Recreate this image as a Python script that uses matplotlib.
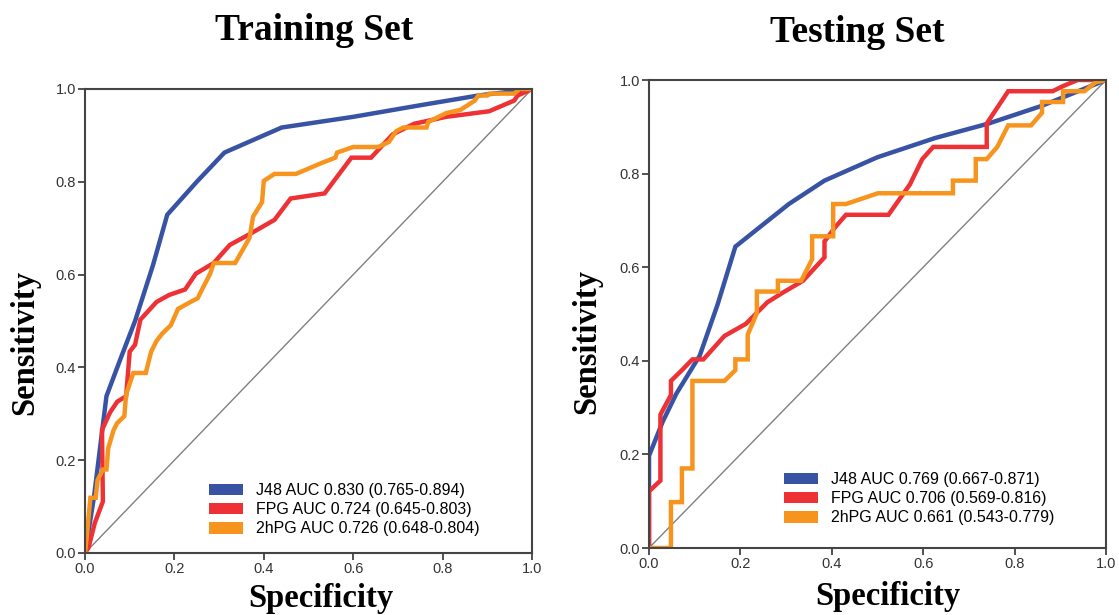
import matplotlib
matplotlib.use("Agg")
import matplotlib.pyplot as plt
from matplotlib.patches import Patch

# colours of the three models
C_J48 = "#3953A4"
C_FPG = "#EE3134"
C_2HPG = "#F7941D"

# ---- training set curves (x = 1 - specificity, y = sensitivity) ----
train_j48_x = [0.0, 0.02, 0.048, 0.08, 0.112, 0.152, 0.184, 0.25, 0.312, 0.44, 0.6, 0.75, 0.88, 1.0]
train_j48_y = [0.0, 0.12, 0.338, 0.42, 0.50, 0.62, 0.729, 0.80, 0.863, 0.917, 0.94, 0.965, 0.986, 1.0]

train_fpg_x = [0.0, 0.008, 0.022, 0.04, 0.038, 0.056, 0.072, 0.092, 0.1, 0.112, 0.124, 0.16,
               0.188, 0.224, 0.248, 0.288, 0.324, 0.368, 0.424, 0.46, 0.536, 0.596, 0.64,
               0.688, 0.736, 0.808, 0.904, 0.96, 0.968, 1.0]
train_fpg_y = [0.0, 0.012, 0.065, 0.111, 0.265, 0.303, 0.326, 0.338, 0.434, 0.449, 0.503, 0.541,
               0.556, 0.568, 0.602, 0.625, 0.664, 0.687, 0.718, 0.764, 0.775, 0.852, 0.852,
               0.902, 0.925, 0.940, 0.952, 0.975, 0.986, 1.0]

train_2hpg_x = [0.0, 0.004, 0.012, 0.024, 0.028, 0.04, 0.048, 0.052, 0.064, 0.072, 0.088, 0.092,
                0.108, 0.136, 0.148, 0.16, 0.172, 0.192, 0.208, 0.236, 0.252, 0.264, 0.28,
                0.288, 0.336, 0.368, 0.376, 0.396, 0.4, 0.424, 0.472, 0.528, 0.56, 0.564,
                0.6, 0.656, 0.68, 0.696, 0.712, 0.764, 0.768, 0.808, 0.84, 0.872, 0.88,
                0.9, 0.904, 0.96, 0.972, 1.0]
train_2hpg_y = [0.0, 0.035, 0.119, 0.119, 0.157, 0.18, 0.18, 0.226, 0.265, 0.28, 0.295, 0.342,
                0.388, 0.388, 0.434, 0.457, 0.472, 0.491, 0.526, 0.541, 0.549, 0.572, 0.602,
                0.625, 0.625, 0.679, 0.725, 0.756, 0.802, 0.817, 0.817, 0.840, 0.852, 0.863,
                0.875, 0.875, 0.886, 0.909, 0.917, 0.917, 0.929, 0.948, 0.955, 0.975, 0.986,
                0.986, 0.990, 0.990, 1.0, 1.0]

# ---- testing set curves ----
test_j48_x = [0.0, 0.0, 0.03, 0.06, 0.111, 0.15, 0.189, 0.306, 0.384, 0.5, 0.626, 0.743, 0.86, 1.0]
test_j48_y = [0.0, 0.197, 0.27, 0.33, 0.411, 0.52, 0.644, 0.735, 0.785, 0.835, 0.876, 0.907, 0.945, 1.0]

test_fpg_x = [0.0, 0.0, 0.025, 0.025, 0.048, 0.048, 0.072, 0.095, 0.119, 0.165, 0.212, 0.259,
              0.29, 0.337, 0.384, 0.384, 0.407, 0.431, 0.524, 0.571, 0.598, 0.622, 0.739,
              0.739, 0.786, 0.883, 0.906, 0.938, 1.0]
test_fpg_y = [0.0, 0.121, 0.144, 0.285, 0.327, 0.357, 0.380, 0.403, 0.403, 0.453, 0.479, 0.525,
              0.544, 0.571, 0.621, 0.655, 0.685, 0.712, 0.712, 0.777, 0.831, 0.857, 0.857,
              0.907, 0.976, 0.976, 0.987, 1.0, 1.0]

test_2hpg_x = [0.0, 0.048, 0.048, 0.072, 0.072, 0.095, 0.095, 0.165, 0.189, 0.189, 0.216, 0.216,
               0.236, 0.236, 0.282, 0.282, 0.333, 0.357, 0.357, 0.403, 0.403, 0.431, 0.501,
               0.665, 0.665, 0.715, 0.715, 0.739, 0.762, 0.786, 0.836, 0.86, 0.86, 0.906,
               0.906, 0.953, 0.977, 1.0]
test_2hpg_y = [0.0, 0.0, 0.098, 0.098, 0.170, 0.170, 0.357, 0.357, 0.380, 0.403, 0.403, 0.456,
               0.502, 0.548, 0.548, 0.571, 0.571, 0.617, 0.666, 0.666, 0.735, 0.735, 0.758,
               0.758, 0.785, 0.785, 0.831, 0.831, 0.857, 0.903, 0.903, 0.930, 0.953, 0.953,
               0.976, 0.976, 0.995, 1.0]

train_labels = ["J48 AUC 0.830 (0.765-0.894)",
                "FPG AUC 0.724 (0.645-0.803)",
                "2hPG AUC 0.726 (0.648-0.804)"]
test_labels = ["J48 AUC 0.769 (0.667-0.871)",
               "FPG AUC 0.706 (0.569-0.816)",
               "2hPG AUC 0.661 (0.543-0.779)"]
ticks = [0.0, 0.2, 0.4, 0.6, 0.8, 1.0]

W, H = 1119, 615
fig = plt.figure(figsize=(W / 100, H / 100), dpi=100)

def px_rect(x0, y0, x1, y1):
    return [x0 / W, 1 - y1 / H, (x1 - x0) / W, (y1 - y0) / H]

def draw_panel(ax, curves, labels, leg_xy):
    ax.plot([0, 1], [0, 1], color="#808080", lw=1.0, zorder=1)
    for (x, y), c in zip(curves, [C_J48, C_FPG, C_2HPG]):
        ax.plot(x, y, color=c, lw=3.2, solid_joinstyle="miter", zorder=2)
    ax.set_xlim(0, 1)
    ax.set_ylim(0, 1)
    ax.set_xticks(ticks)
    ax.set_yticks(ticks)
    ax.set_xticklabels(["%.1f" % t for t in ticks])
    ax.set_yticklabels(["%.1f" % t for t in ticks])
    ax.tick_params(direction="out", length=5, width=1.2, color="#333333",
                   labelsize=10.5, labelcolor="#333333", pad=1.5)
    for s in ax.spines.values():
        s.set_color("#444444")
        s.set_linewidth(1.5)
    for t in ax.get_xticklabels() + ax.get_yticklabels():
        t.set_family("Liberation Sans")
    handles = [Patch(facecolor=c, edgecolor="none") for c in [C_J48, C_FPG, C_2HPG]]
    ax.legend(handles, labels, loc="upper left",
              bbox_to_anchor=(leg_xy[0] / W, 1 - leg_xy[1] / H),
              bbox_transform=fig.transFigure, frameon=False,
              prop={"family": "Liberation Sans", "size": 11.5},
              handlelength=2.1, handleheight=0.75, handletextpad=0.85,
              labelspacing=0.26, borderpad=0, borderaxespad=0)

ax1 = fig.add_axes(px_rect(85, 89, 532, 553))
draw_panel(ax1, [(train_j48_x, train_j48_y), (train_fpg_x, train_fpg_y),
                 (train_2hpg_x, train_2hpg_y)], train_labels, (209, 483))

ax2 = fig.add_axes(px_rect(649, 80, 1106, 548))
draw_panel(ax2, [(test_j48_x, test_j48_y), (test_fpg_x, test_fpg_y),
                 (test_2hpg_x, test_2hpg_y)], test_labels, (784, 472))

serif = "Liberation Serif"
fig.text(314 / W, 1 - 30 / H, "Training Set", ha="center", va="center",
         family=serif, weight="bold", size=27)
fig.text(857 / W, 1 - 32 / H, "Testing Set", ha="center", va="center",
         family=serif, weight="bold", size=27)
fig.text(25 / W, 1 - 342 / H, "Sensitivity", ha="center", va="center", rotation=90,
         family=serif, weight="bold", size=23.5)
fig.text(587 / W, 1 - 341 / H, "Sensitivity", ha="center", va="center", rotation=90,
         family=serif, weight="bold", size=23.5)
fig.text(321 / W, 1 - 599 / H, "Specificity", ha="center", va="center",
         family=serif, weight="bold", size=23.5)
fig.text(888 / W, 1 - 597 / H, "Specificity", ha="center", va="center",
         family=serif, weight="bold", size=23.5)

fig.savefig("out.png", dpi=100, facecolor="white")
